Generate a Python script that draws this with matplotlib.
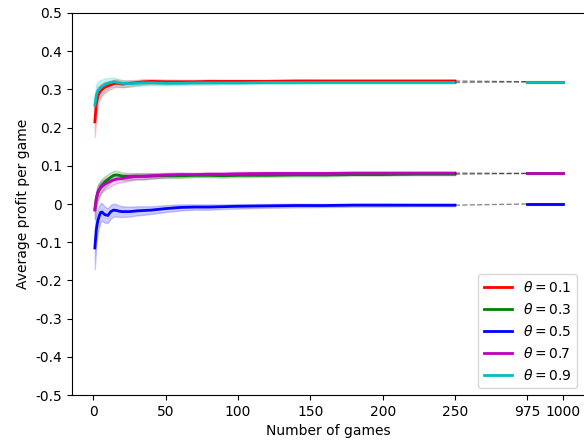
import matplotlib
matplotlib.use("Agg")
import matplotlib.pyplot as plt
import numpy as np

# Games sampled in the early phase and in the final stretch
games_early = [1, 2, 3, 4, 5, 6, 7, 8, 10, 12, 14, 16, 18, 20, 25, 30, 35, 40,
               50, 60, 70, 80, 90, 100, 120, 140, 160, 180, 200, 225, 250]
games_late = [975, 980, 985, 990, 995, 1000]

thetas = [0.1, 0.3, 0.5, 0.7, 0.9]
colors = ['r', 'g', 'b', 'm', 'c']

# Mean average profit per game (early phase)
mean_early = {
    0.1: [0.215, 0.262, 0.282, 0.290, 0.296, 0.300, 0.303, 0.306, 0.309, 0.312, 0.315,
          0.316, 0.315, 0.314, 0.316, 0.318, 0.320, 0.321, 0.320, 0.320, 0.320, 0.321,
          0.321, 0.321, 0.321, 0.322, 0.322, 0.322, 0.322, 0.322, 0.322],
    0.3: [-0.014, 0.015, 0.028, 0.037, 0.045, 0.050, 0.054, 0.058, 0.064, 0.070, 0.075,
          0.076, 0.075, 0.073, 0.072, 0.073, 0.072, 0.073, 0.074, 0.074, 0.075, 0.075,
          0.074, 0.075, 0.075, 0.076, 0.076, 0.077, 0.077, 0.078, 0.078],
    0.5: [-0.115, -0.068, -0.045, -0.032, -0.022, -0.021, -0.025, -0.028, -0.030, -0.020,
          -0.016, -0.017, -0.019, -0.020, -0.020, -0.018, -0.017, -0.016, -0.012, -0.009,
          -0.008, -0.008, -0.007, -0.006, -0.005, -0.004, -0.004, -0.003, -0.003, -0.003,
          -0.003],
    0.7: [-0.016, 0.012, 0.030, 0.037, 0.042, 0.046, 0.049, 0.052, 0.056, 0.060, 0.063,
          0.065, 0.066, 0.067, 0.070, 0.072, 0.073, 0.074, 0.076, 0.077, 0.077, 0.078,
          0.078, 0.079, 0.080, 0.080, 0.080, 0.081, 0.081, 0.081, 0.081],
    0.9: [0.258, 0.285, 0.296, 0.300, 0.305, 0.308, 0.310, 0.313, 0.316, 0.318, 0.320,
          0.319, 0.317, 0.316, 0.315, 0.316, 0.317, 0.317, 0.316, 0.316, 0.317, 0.317,
          0.317, 0.317, 0.318, 0.318, 0.318, 0.318, 0.318, 0.318, 0.318],
}

# Half-width of the spread band (early phase)
spread_early = {
    0.1: [0.040, 0.030, 0.025, 0.020, 0.018, 0.016, 0.015, 0.014, 0.012, 0.011, 0.010,
          0.010, 0.009, 0.009, 0.008, 0.007, 0.007, 0.006, 0.006, 0.005, 0.005, 0.005,
          0.004, 0.004, 0.004, 0.004, 0.003, 0.003, 0.003, 0.003, 0.003],
    0.3: [0.025, 0.022, 0.020, 0.018, 0.017, 0.016, 0.016, 0.015, 0.014, 0.013, 0.012,
          0.011, 0.010, 0.010, 0.009, 0.008, 0.008, 0.007, 0.006, 0.006, 0.005, 0.005,
          0.005, 0.005, 0.004, 0.004, 0.004, 0.003, 0.003, 0.003, 0.003],
    0.5: [0.055, 0.040, 0.032, 0.028, 0.025, 0.023, 0.022, 0.021, 0.019, 0.018, 0.017,
          0.016, 0.015, 0.014, 0.013, 0.012, 0.011, 0.010, 0.009, 0.008, 0.007, 0.007,
          0.006, 0.006, 0.005, 0.005, 0.004, 0.004, 0.004, 0.003, 0.003],
    0.7: [0.025, 0.022, 0.020, 0.018, 0.017, 0.016, 0.015, 0.015, 0.014, 0.013, 0.012,
          0.011, 0.010, 0.010, 0.009, 0.008, 0.008, 0.007, 0.006, 0.006, 0.005, 0.005,
          0.005, 0.005, 0.004, 0.004, 0.004, 0.003, 0.003, 0.003, 0.003],
    0.9: [0.030, 0.028, 0.025, 0.022, 0.020, 0.018, 0.017, 0.016, 0.014, 0.012, 0.011,
          0.010, 0.010, 0.009, 0.008, 0.007, 0.007, 0.006, 0.006, 0.005, 0.005, 0.005,
          0.004, 0.004, 0.004, 0.004, 0.003, 0.003, 0.003, 0.003, 0.003],
}

# Mean and spread over the final games
mean_late = {
    0.1: [0.320, 0.320, 0.320, 0.320, 0.320, 0.320],
    0.3: [0.080, 0.080, 0.080, 0.080, 0.080, 0.080],
    0.5: [0.000, 0.000, 0.000, 0.000, 0.000, 0.000],
    0.7: [0.080, 0.080, 0.080, 0.080, 0.080, 0.080],
    0.9: [0.320, 0.320, 0.320, 0.320, 0.320, 0.320],
}
spread_late = {t: [0.002] * 6 for t in thetas}

x_ticks = [0, 50, 100, 150, 200, 250, 975, 1000]
y_ticks = [0.5, 0.4, 0.3, 0.2, 0.1, 0.0, -0.1, -0.2, -0.3, -0.4, -0.5]
y_tick_labels = ['0.5', '0.4', '0.3', '0.2', '0.1', '0', '-0.1', '-0.2', '-0.3',
                 '-0.4', '-0.5']

# Broken x axis: games after the break are drawn right after a short gap
BREAK_START, BREAK_END, GAP = 250, 975, 50


def to_axis(g):
    g = np.asarray(g, dtype=float)
    return np.where(g > BREAK_START, g - BREAK_END + BREAK_START + GAP, g)


fig = plt.figure(figsize=(5.84, 4.44), dpi=100)
ax = fig.add_axes([71.7 / 584, 49 / 444, (584 - 71.7) / 584, (395 - 13) / 444])

xe = to_axis(games_early)
xl = to_axis(games_late)
for t, c in zip(thetas, colors):
    me = np.array(mean_early[t])
    se = np.array(spread_early[t])
    ml = np.array(mean_late[t])
    sl = np.array(spread_late[t])
    ax.fill_between(xe, me - se, me + se, color=c, alpha=0.2)
    ax.plot(xe, me, color=c, lw=2, label=r'$\theta=%.1f$' % t)
    ax.plot([xe[-1], xl[0]], [me[-1], ml[0]], color='k', alpha=0.45, lw=1, ls='--')
    ax.fill_between(xl, ml - sl, ml + sl, color=c, alpha=0.2)
    ax.plot(xl, ml, color=c, lw=2)

ax.set_xlim(-15, 339.2)
ax.set_ylim(-0.5, 0.5)
ax.set_xticks(to_axis(x_ticks))
ax.set_xticklabels([str(v) for v in x_ticks])
ax.set_yticks(y_ticks)
ax.set_yticklabels(y_tick_labels)
ax.spines['right'].set_visible(False)
ax.set_xlabel('Number of games')
ax.set_ylabel('Average profit per game')
ax.legend(loc='lower right')

fig.savefig('out.png', dpi=100)
